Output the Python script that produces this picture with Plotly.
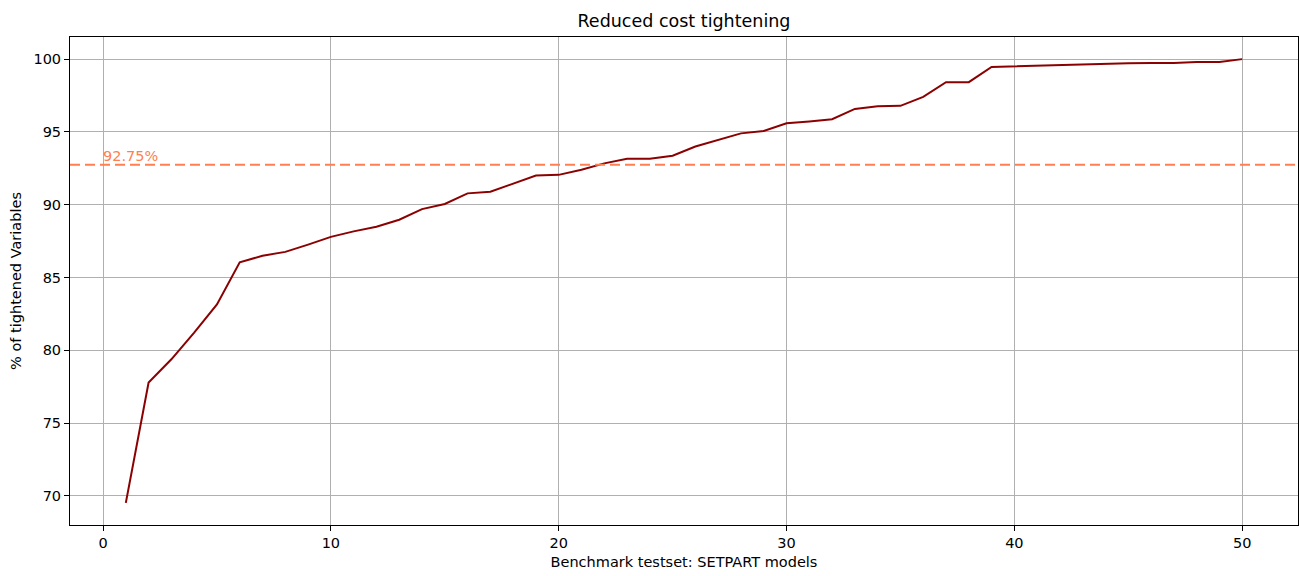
import plotly.graph_objects as go

# Share of tightened variables per SETPART model, sorted ascending
models = list(range(1, 51))
tightened_pct = [
    69.52, 77.79, 79.38, 81.21, 83.15, 86.04, 86.50, 86.76, 87.26, 87.79,
    88.17, 88.49, 88.97, 89.70, 90.05, 90.78, 90.89, 91.44, 92.00, 92.05,
    92.40, 92.84, 93.15, 93.15, 93.36, 94.00, 94.45, 94.90, 95.07, 95.60,
    95.72, 95.87, 96.58, 96.76, 96.79, 97.41, 98.42, 98.42, 99.46, 99.51,
    99.53, 99.59, 99.64, 99.69, 99.71, 99.73, 99.73, 99.80, 99.80, 100.00,
]
mean_pct = 92.75
x_ticks = [0, 10, 20, 30, 40, 50]
y_ticks = [70, 75, 80, 85, 90, 95, 100]

font_family = "DejaVu Sans"

fig = go.Figure()

fig.add_trace(go.Scatter(
    x=models,
    y=tightened_pct,
    mode="lines",
    line=dict(color="#8b0000", width=2),
    showlegend=False,
))

# Average level as a dashed horizontal reference line
fig.add_shape(
    type="line", xref="paper", yref="y",
    x0=0, x1=1, y0=mean_pct, y1=mean_pct,
    line=dict(color="#ff7f50", width=2, dash="10px,5px"),
)
fig.add_annotation(
    x=0, y=mean_pct, xref="x", yref="y",
    text=f"{mean_pct:.2f}%",
    showarrow=False, xanchor="left", yanchor="bottom",
    xshift=-2, yshift=-1,
    font=dict(family=font_family, size=14.5, color="#ff7f50"),
)

axis_common = dict(
    showline=True, mirror=True, linecolor="black", linewidth=1,
    ticks="outside", ticklen=5, tickcolor="black", tickwidth=1,
    showgrid=True, gridcolor="#b0b0b0", gridwidth=1,
    zeroline=False,
    tickfont=dict(family=font_family, size=14.5, color="black"),
)

fig.update_layout(
    width=1299, height=576,
    margin=dict(l=70, r=1, t=37, b=51),
    plot_bgcolor="white", paper_bgcolor="white",
    title=dict(
        text="Reduced cost tightening",
        x=(70 + 1298) / 2 / 1299, xanchor="center",
        y=1 - 21 / 576, yanchor="middle",
        font=dict(family=font_family, size=17.5, color="black"),
    ),
    xaxis=dict(
        range=[-1.45, 52.45], tickvals=x_ticks,
        title=dict(text="Benchmark testset: SETPART models", standoff=6,
                   font=dict(family=font_family, size=14.5, color="black")),
        **axis_common,
    ),
    yaxis=dict(
        range=[68.0, 101.52], tickvals=y_ticks,
        title=dict(text="% of tightened Variables", standoff=8,
                   font=dict(family=font_family, size=14.5, color="black")),
        **axis_common,
    ),
)

fig.write_html("out.html")
